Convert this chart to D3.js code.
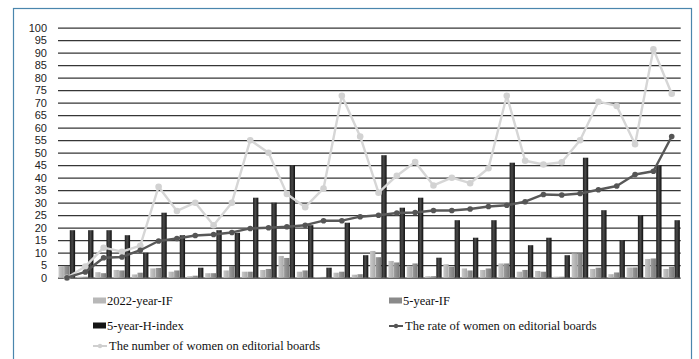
<!DOCTYPE html>
<html>
<head>
<meta charset="utf-8">
<script src="https://cdn.jsdelivr.net/npm/d3@7"></script>
<style>
  html, body { margin: 0; padding: 0; background: #ffffff; }
  svg { display: block; }
</style>
</head>
<body>
<div id="chart"></div>
<script>
// journals, in the order of the x axis (no labels shown)
const journals = ["J1","J2","J3","J4","J5","J6","J7","J8","J9","J10","J11","J12","J13","J14","J15","J16","J17",
                  "J18","J19","J20","J21","J22","J23","J24","J25","J26","J27","J28","J29","J30","J31","J32","J33","J34"];

const if2022 = [4.6,0.4,2.2,3.1,1.3,3.7,2.4,0.6,1.8,2.9,2.4,3.1,8.7,2.4,0.2,2.0,1.2,
                10.7,6.7,4.8,0.6,5.4,3.7,3.1,5.7,2.4,2.7,0.4,9.7,3.5,1.4,4.1,7.5,3.5];
const if5 = [4.7,0.4,1.8,2.9,2.0,3.9,2.9,0.8,1.8,4.7,2.4,3.5,7.9,2.9,0.3,2.4,1.4,
             8.2,6.1,5.7,0.6,4.4,2.9,3.7,5.7,3.1,2.4,0.4,9.7,4.0,2.1,4.1,7.7,4.4];
const hIndex5 = [19,19,19,17,10,26,17,4,19,18,32,30,45,21,4,22,9,
                 49,28,32,8,23,16,23,46,13,16,9,48,27,15,25,45,23];
const womenRate = [0,2.3,8,8.3,11,14.7,15.7,16.9,17.3,18.1,19.7,20,20.4,21,22.8,22.8,24.4,
                   25,25.9,26.1,26.9,26.9,27.5,28.5,29,30.4,33.3,33.1,33.7,35.2,36.7,41.3,42.6,56.5];
const womenCount = [0,4.5,12,10.4,12.8,36.4,26.7,30,21,30,55,50,33.5,28.2,35.7,72.8,56.5,
                    34,40.8,46.3,36.9,40,37.8,43.8,72.8,46.8,45.3,46.2,55,70.4,68.7,53.4,91.4,73.6];
const yTicks = [0,5,10,15,20,25,30,35,40,45,50,55,60,65,70,75,80,85,90,95,100];

const W = 699, H = 359;
const svg = d3.select("#chart").append("svg").attr("width", W).attr("height", H);

// gradients for the shaded bars
const defs = svg.append("defs");
function grad(id, stops) {
    const g = defs.append("linearGradient").attr("id", id)
        .attr("x1", "0%").attr("x2", "100%").attr("y1", "0%").attr("y2", "0%");
    stops.forEach(s => g.append("stop").attr("offset", s[0]).attr("stop-color", s[1]));
}
grad("gLight", [["0%", "#c9c9c9"], ["100%", "#a9a9a9"]]);
grad("gMid", [["0%", "#9c9c9c"], ["100%", "#7a7a7a"]]);
grad("gDark", [["0%", "#1c1c1c"], ["45%", "#4a4a4a"], ["100%", "#0e0e0e"]]);

// outer frame
svg.append("rect")
   .attr("x", 13.5).attr("y", 8.5)
   .attr("width", 678).attr("height", 370)
   .attr("fill", "none")
   .attr("stroke", "#4a86ad")
   .attr("stroke-width", 1.2);

const x = d3.scaleBand().domain(journals).range([58, 680.7]).paddingInner(0.08).paddingOuter(0.03);
const sub = d3.scaleBand().domain(["a", "b", "c"]).range([0, x.bandwidth()]);
const y = d3.scaleLinear().domain([0, 100]).range([277.7, 27.7]);

// horizontal grid + tick labels
const yAxis = svg.append("g")
   .attr("transform", "translate(58,0)")
   .call(d3.axisLeft(y).tickValues(yTicks).tickSize(-622.7).tickPadding(11));
yAxis.select(".domain").remove();
yAxis.selectAll(".tick line").attr("stroke", "#363636").attr("stroke-width", 1.3);
yAxis.selectAll(".tick text")
     .attr("fill", "#222")
     .style("font-family", "'Liberation Sans', Arial, sans-serif")
     .style("font-size", "11px");

// bars
const series = [
    { key: "a", vals: if2022, fill: "url(#gLight)" },
    { key: "b", vals: if5, fill: "url(#gMid)" },
    { key: "c", vals: hIndex5, fill: "url(#gDark)" }
];
series.forEach(s => {
    svg.append("g").selectAll("rect")
       .data(journals)
       .join("rect")
       .attr("x", (d, i) => x(d) + sub(s.key))
       .attr("y", (d, i) => y(s.vals[i]))
       .attr("width", sub.bandwidth() - 0.3)
       .attr("height", (d, i) => y(0) - y(s.vals[i]))
       .attr("fill", s.fill);
});

const cx = d => x(d) + x.bandwidth() / 2;

function drawLine(vals, color, width, r, dotColor) {
    const line = d3.line().x((d, i) => cx(journals[i])).y(d => y(d));
    svg.append("path")
       .datum(vals)
       .attr("fill", "none")
       .attr("stroke", color)
       .attr("stroke-width", width)
       .attr("stroke-linejoin", "round")
       .attr("d", line);
    svg.append("g").selectAll("circle")
       .data(vals)
       .join("circle")
       .attr("cx", (d, i) => cx(journals[i]))
       .attr("cy", d => y(d))
       .attr("r", r)
       .attr("fill", dotColor);
}
drawLine(womenCount, "#d6d6d6", 2.4, 3.3, "#d2d2d2");
drawLine(womenRate, "#585858", 2.4, 2.8, "#555555");

// legend
const legend = svg.append("g")
   .style("font-family", "'Liberation Serif', 'Times New Roman', serif")
   .style("font-size", "12.5px")
   .attr("fill", "#111");

const legendItems = [
    { label: "2022-year-IF", type: "box", color: "#b8b8b8", lx: 93, ly: 301 },
    { label: "5-year-IF", type: "box", color: "#8a8a8a", lx: 389, ly: 301 },
    { label: "5-year-H-index", type: "box", color: "#151515", lx: 93, ly: 326 },
    { label: "The rate of women on editorial boards", type: "line", color: "#555555", lx: 389, ly: 326 },
    { label: "The number of women on editorial boards", type: "line", color: "#cfcfcf", lx: 93, ly: 346 }
];
legendItems.forEach(it => {
    const g = legend.append("g").attr("transform", `translate(${it.lx},${it.ly})`);
    if (it.type === "box") {
        g.append("rect").attr("x", 0).attr("y", -3.5).attr("width", 13).attr("height", 6).attr("fill", it.color);
        g.append("text").attr("x", 14).attr("dy", "0.35em").text(it.label);
    } else {
        g.append("line").attr("x1", 0).attr("x2", 14).attr("y1", 0).attr("y2", 0)
         .attr("stroke", it.color).attr("stroke-width", 2);
        g.append("circle").attr("cx", 7).attr("cy", 0).attr("r", 2.2).attr("fill", it.color);
        g.append("text").attr("x", 16).attr("dy", "0.35em").text(it.label);
    }
});
</script>
</body>
</html>
